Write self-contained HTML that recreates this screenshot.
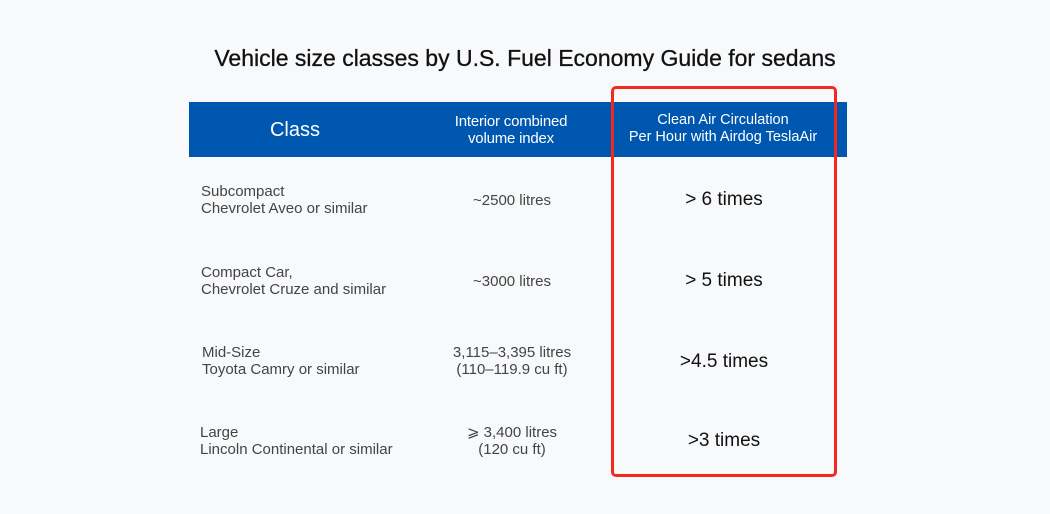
<!DOCTYPE html>
<html><head><meta charset="utf-8"><style>
body{margin:0;width:1050px;height:514px;background:#f8f9fb;position:relative;overflow:hidden;font-family:"Liberation Sans",sans-serif;color:#333}
.a{position:absolute;white-space:nowrap;line-height:17px}
.c{transform:translateX(-50%);text-align:center}
.t{font-size:15px;color:#444;letter-spacing:0px}
.v{font-size:19px;color:#111;line-height:22px}
</style></head><body>
<div class="a c" style="left:525px;top:44px;font-size:23px;line-height:28px;color:#111;letter-spacing:0px;-webkit-text-stroke:0.3px #111">Vehicle size classes by U.S. Fuel Economy Guide for sedans</div>
<div class="a" style="left:189px;top:102px;width:658px;height:55px;background:#0057b0"></div>
<div class="a c" style="left:295px;top:118px;font-size:20px;line-height:24px;color:#fff">Class</div>
<div class="a c" style="left:511px;top:113px;font-size:15px;color:#fff;letter-spacing:-0.2px">Interior combined<br>volume index</div>
<div class="a c" style="left:723px;top:112px;font-size:14.5px;color:#fff;letter-spacing:0px">Clean Air Circulation<br>Per Hour with Airdog TeslaAir</div>

<div class="a t" style="left:201px;top:183px">Subcompact<br>Chevrolet Aveo or similar</div>
<div class="a t c" style="left:512px;top:192px">~2500 litres</div>
<div class="a v c" style="left:724px;top:189px">&gt; 6 times</div>

<div class="a t" style="left:201px;top:264px">Compact Car,<br>Chevrolet Cruze and similar</div>
<div class="a t c" style="left:512px;top:273px">~3000 litres</div>
<div class="a v c" style="left:724px;top:270px">&gt; 5 times</div>

<div class="a t" style="left:202px;top:344px">Mid-Size<br>Toyota Camry or similar</div>
<div class="a t c" style="left:512px;top:344px">3,115–3,395 litres<br>(110–119.9 cu ft)</div>
<div class="a v c" style="left:724px;top:351px">&gt;4.5 times</div>

<div class="a t" style="left:200px;top:424px">Large<br>Lincoln Continental or similar</div>
<div class="a t c" style="left:512px;top:424px">⩾ 3,400 litres<br>(120 cu ft)</div>
<div class="a v c" style="left:724px;top:430px">&gt;3 times</div>

<div class="a" style="left:611px;top:86px;width:220px;height:385px;border:3px solid #f5281e;border-radius:5px"></div>
</body></html>
